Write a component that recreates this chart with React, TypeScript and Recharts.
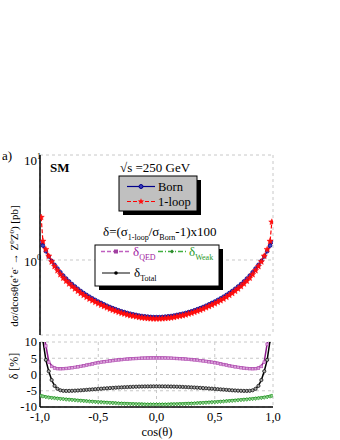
import React from 'react';
import { CartesianGrid, Line, LineChart, XAxis, YAxis } from 'recharts';

const FONT = '"Liberation Serif", "Times New Roman", serif';

const cosTheta = [
  -0.99, -0.975, -0.95, -0.925, -0.9, -0.875, -0.85, -0.825, -0.8, -0.775, -0.75, -0.725, -0.7, -0.675, -0.65,
  -0.625, -0.6, -0.575, -0.55, -0.525, -0.5, -0.475, -0.45, -0.425, -0.4, -0.375, -0.35, -0.325, -0.3, -0.275,
  -0.25, -0.225, -0.2, -0.175, -0.15, -0.125, -0.1, -0.075, -0.05, -0.025, 0, 0.025, 0.05, 0.075, 0.1, 0.125,
  0.15, 0.175, 0.2, 0.225, 0.25, 0.275, 0.3, 0.325, 0.35, 0.375, 0.4, 0.425, 0.45, 0.475, 0.5, 0.525, 0.55,
  0.575, 0.6, 0.625, 0.65, 0.675, 0.7, 0.725, 0.75, 0.775, 0.8, 0.825, 0.85, 0.875, 0.9, 0.925, 0.95, 0.975, 0.99,
];

// Born cross section [pb]
const bornXs = [
  1.48, 1.37, 1.21, 1.08, 0.98, 0.9, 0.83, 0.765, 0.71, 0.665, 0.625, 0.59, 0.56, 0.532, 0.507, 0.485, 0.465,
  0.447, 0.431, 0.416, 0.402, 0.39, 0.378, 0.367, 0.357, 0.348, 0.34, 0.332, 0.325, 0.319, 0.313, 0.308, 0.304,
  0.3, 0.296, 0.293, 0.291, 0.289, 0.287, 0.286, 0.286, 0.286, 0.287, 0.289, 0.291, 0.293, 0.296, 0.3, 0.304,
  0.308, 0.313, 0.319, 0.325, 0.332, 0.34, 0.348, 0.357, 0.367, 0.378, 0.39, 0.402, 0.416, 0.431, 0.447, 0.465,
  0.485, 0.507, 0.532, 0.56, 0.59, 0.625, 0.665, 0.71, 0.765, 0.83, 0.9, 0.98, 1.08, 1.21, 1.37, 1.48,
];

// 1-loop cross section [pb]
const oneLoopXs = [
  2.55, 1.51, 1.26, 1.09, 0.963, 0.869, 0.794, 0.728, 0.674, 0.631, 0.594, 0.56, 0.532, 0.506, 0.482, 0.462,
  0.443, 0.426, 0.411, 0.397, 0.384, 0.373, 0.362, 0.352, 0.342, 0.334, 0.326, 0.319, 0.312, 0.307, 0.301,
  0.296, 0.293, 0.289, 0.285, 0.282, 0.28, 0.278, 0.277, 0.276, 0.276, 0.276, 0.277, 0.278, 0.28, 0.282, 0.285,
  0.289, 0.293, 0.296, 0.301, 0.307, 0.312, 0.319, 0.326, 0.334, 0.342, 0.352, 0.362, 0.373, 0.384, 0.397,
  0.411, 0.426, 0.443, 0.462, 0.482, 0.506, 0.532, 0.56, 0.594, 0.631, 0.674, 0.728, 0.794, 0.869, 0.963, 1.09,
  1.26, 1.51, 2.3,
];

const deltaQED = [
  20, 13, 9, 4.0, 2.7, 2.2, 2.02, 1.98, 2.01, 2.08, 2.17, 2.29, 2.42, 2.56, 2.72, 2.9, 3.1, 3.28, 3.46, 3.66,
  3.83, 3.98, 4.12, 4.25, 4.38, 4.49, 4.6, 4.7, 4.8, 4.88, 4.96, 5.03, 5.09, 5.14, 5.18, 5.22, 5.25, 5.27, 5.29,
  5.3, 5.3, 5.3, 5.29, 5.27, 5.25, 5.22, 5.18, 5.14, 5.09, 5.03, 4.96, 4.88, 4.8, 4.7, 4.6, 4.49, 4.38, 4.25,
  4.12, 3.98, 3.83, 3.66, 3.46, 3.28, 3.1, 2.9, 2.72, 2.56, 2.42, 2.29, 2.17, 2.08, 2.01, 1.98, 2.02, 2.2, 2.7,
  4.0, 9.5, 14, 20,
];

const deltaWeak = [
  -6.35, -6.5, -6.7, -6.85, -6.97, -7.08, -7.18, -7.27, -7.36, -7.45, -7.53, -7.61, -7.69, -7.77, -7.85, -7.93,
  -8.0, -8.07, -8.14, -8.21, -8.27, -8.33, -8.39, -8.45, -8.51, -8.57, -8.62, -8.67, -8.72, -8.76, -8.8, -8.84,
  -8.87, -8.9, -8.93, -8.95, -8.97, -8.98, -8.99, -9.0, -9.0, -9.0, -8.99, -8.98, -8.97, -8.95, -8.93, -8.9,
  -8.87, -8.84, -8.8, -8.76, -8.72, -8.67, -8.62, -8.57, -8.51, -8.45, -8.39, -8.33, -8.27, -8.21, -8.14, -8.07,
  -8.0, -7.93, -7.85, -7.77, -7.69, -7.61, -7.53, -7.45, -7.36, -7.27, -7.18, -7.08, -6.97, -6.85, -6.7, -6.5,
  -6.35,
];

const deltaTotal = [
  69, 10.5, 4.5, 1.0, -1.7, -3.5, -4.4, -4.85, -5.02, -5.05, -5.04, -5.01, -4.97, -4.92, -4.86, -4.79, -4.72,
  -4.65, -4.58, -4.51, -4.44, -4.37, -4.3, -4.23, -4.17, -4.11, -4.05, -4.0, -3.95, -3.9, -3.86, -3.82, -3.78,
  -3.75, -3.72, -3.7, -3.68, -3.67, -3.66, -3.65, -3.65, -3.65, -3.66, -3.67, -3.68, -3.7, -3.72, -3.75, -3.78,
  -3.82, -3.86, -3.9, -3.95, -4.0, -4.05, -4.11, -4.17, -4.23, -4.3, -4.37, -4.44, -4.51, -4.58, -4.65, -4.72,
  -4.79, -4.86, -4.92, -4.97, -5.01, -5.04, -5.05, -5.02, -4.85, -4.4, -3.5, -1.7, 1.0, 4.5, 10.5, 55,
];

const xMajorTicks = [-1, -0.5, 0, 0.5, 1];
const xTickLabels = ['-1,0', '-0,5', '0,0', '0,5', '1,0'];
const xMinorTicks = Array.from({ length: 41 }, (_, i) => Math.round((-1 + i * 0.05) * 100) / 100);
const logMajorTicks = [1, 10];
const logMinorTicks = [0.2, 0.3, 0.4, 0.5, 0.6, 0.7, 0.8, 0.9, 2, 3, 4, 5, 6, 7, 8, 9];
const deltaMajorTicks = [-10, -5, 0, 5, 10];
const deltaMinorTicks = Array.from({ length: 21 }, (_, i) => -10 + i);

const data = cosTheta.map((c, i) => ({
  c,
  born: bornXs[i],
  loop: oneLoopXs[i],
  qed: deltaQED[i],
  weak: deltaWeak[i],
  total: deltaTotal[i],
}));

const frameLine = { stroke: '#000', strokeWidth: 1.5 };
const tickLn = { stroke: '#000', strokeWidth: 1 };

function starPath(cx: number, cy: number, r: number) {
  let d = '';
  for (let k = 0; k < 10; k++) {
    const rad = k % 2 === 0 ? r : r * 0.45;
    const a = -Math.PI / 2 + (k * Math.PI) / 5;
    d += (k === 0 ? 'M' : 'L') + (cx + rad * Math.cos(a)).toFixed(2) + ',' + (cy + rad * Math.sin(a)).toFixed(2);
  }
  return d + 'Z';
}

const StarDot = (p: any) => {
  if (p.cx == null || p.cy == null) return <g key={`s${p.index}`} />;
  return <path key={`s${p.index}`} d={starPath(p.cx, p.cy, 3.3)} fill="#ff1010" stroke="#ff0000" strokeWidth={0.4} />;
};
const SquareDot = (p: any) => {
  if (p.cx == null || p.cy == null) return <g key={`q${p.index}`} />;
  return <rect key={`q${p.index}`} x={p.cx - 1.3} y={p.cy - 0.6} width={2.6} height={2.6} fill="#dca6dc" stroke="#b455b4" strokeWidth={0.7} />;
};
const DiamondDot = (p: any) => {
  if (p.cx == null || p.cy == null) return <g key={`d${p.index}`} />;
  const { cx, cy } = p;
  return <path key={`d${p.index}`} d={`M${cx},${cy - 1.2}L${cx + 1.7},${cy + 0.7}L${cx},${cy + 2.6}L${cx - 1.7},${cy + 0.7}Z`} fill="#8fd08f" stroke="#2c9c2c" strokeWidth={0.7} />;
};

function LogTick(props: any) {
  const { x, y, payload } = props;
  const exp = Math.round(Math.log10(payload.value));
  const dy = payload.value === 10 ? 10 : 6;
  return (
    <text x={x + 1} y={y + dy} textAnchor="end" fontFamily={FONT} fontSize={13} fill="#000">
      10<tspan dy={-6} fontSize={8}>{exp}</tspan>
    </text>
  );
}

// inward major/minor ticks + box frame on all four sides
function frameAxes(yDomain: number[], yScale: any, yMajor: number[], yMinor: number[]) {
  const xCommon = { type: 'number' as const, domain: [-1, 1], allowDataOverflow: true, interval: 0 as const, mirror: true, height: 0, tick: false, stroke: '#000', tickLine: tickLn };
  const yCommon = { type: 'number' as const, scale: yScale, domain: yDomain, allowDataOverflow: true, interval: 0 as const, mirror: true, width: 0, tick: false, stroke: '#000', tickLine: tickLn };
  return [
    <XAxis key="xb1" xAxisId="xb1" orientation="bottom" ticks={xMajorTicks} tickSize={5} axisLine={false} {...xCommon} />,
    <XAxis key="xb2" xAxisId="xb2" orientation="bottom" ticks={xMinorTicks} tickSize={3} axisLine={false} {...xCommon} />,
    <XAxis key="xt1" xAxisId="xt1" orientation="top" ticks={xMajorTicks} tickSize={5} axisLine={frameLine} {...xCommon} />,
    <XAxis key="xt2" xAxisId="xt2" orientation="top" ticks={xMinorTicks} tickSize={3} axisLine={false} {...xCommon} />,
    <YAxis key="yl1" yAxisId="yl1" orientation="left" ticks={yMajor} tickSize={5} axisLine={false} {...yCommon} />,
    <YAxis key="yl2" yAxisId="yl2" orientation="left" ticks={yMinor} tickSize={3} axisLine={false} {...yCommon} />,
    <YAxis key="yr1" yAxisId="yr1" orientation="right" ticks={yMajor} tickSize={5} axisLine={frameLine} {...yCommon} />,
    <YAxis key="yr2" yAxisId="yr2" orientation="right" ticks={yMinor} tickSize={3} axisLine={false} {...yCommon} />,
  ];
}

function Overlay() {
  return (
    <svg width={340} height={440} fontFamily={FONT} style={{ position: 'absolute', left: 0, top: 0, pointerEvents: 'none' }}>
      <text x={2} y={160} fontSize={13}>a)</text>
      <text x={50} y={172} fontSize={13} fontWeight="bold">SM</text>
      <text x={120} y={172} fontSize={13}>√s =250 GeV</text>

      <rect x={123} y={180} width={78} height={35} fill="#000" />
      <rect x={119} y={176} width={78} height={35} fill="#c0c0c0" stroke="#000" strokeWidth={1} />
      <line x1={127} x2={155} y1={186.5} y2={186.5} stroke="#00008b" strokeWidth={1.2} />
      <circle cx={141} cy={186.5} r={2} fill="#3a3ab8" stroke="#00008b" />
      <text x={158} y={191} fontSize={12.5}>Born</text>
      <line x1={127} x2={155} y1={201.5} y2={201.5} stroke="#ff0000" strokeWidth={1.2} strokeDasharray="4 2" />
      <path d={starPath(141, 201.5, 3.3)} fill="#ff1010" />
      <text x={158} y={205.5} fontSize={12.5}>1-loop</text>

      <text x={103} y={236} fontSize={13}>
        δ=(σ<tspan fontSize={8} dy={4}>1-loop</tspan>
        <tspan dy={-4}>/σ</tspan>
        <tspan fontSize={8} dy={4}>Born</tspan>
        <tspan dy={-4}>-1)x100</tspan>
      </text>

      <rect x={99} y={249} width={124} height={41} fill="#000" />
      <rect x={95} y={245} width={124} height={41} fill="#fff" stroke="#000" strokeWidth={1} />
      <line x1={101} x2={131} y1={251.5} y2={251.5} stroke="#c060c0" strokeWidth={1.3} strokeDasharray="4 2" />
      <rect x={114.5} y={250} width={3} height={3} fill="#a040a0" stroke="#a040a0" />
      <text x={133} y={256} fontSize={13} fill="#a020a0">
        δ<tspan fontSize={8} dy={4}>QED</tspan>
      </text>
      <line x1={158} x2={187} y1={251.5} y2={251.5} stroke="#40b040" strokeWidth={1.3} strokeDasharray="5 2 1 2" />
      <path d="M172,249.5L174,251.5L172,253.5L170,251.5Z" fill="#2a8a2a" />
      <text x={189} y={256} fontSize={13} fill="#2a9a2a">
        δ<tspan fontSize={8} dy={4}>Weak</tspan>
      </text>
      <line x1={102} x2={130} y1={273} y2={273} stroke="#404040" strokeWidth={1.3} />
      <circle cx={116} cy={273} r={1.8} fill="#000" />
      <text x={134} y={277} fontSize={13}>
        δ<tspan fontSize={8} dy={4}>Total</tspan>
      </text>

      <text transform="translate(17.5,266) rotate(-90)" textAnchor="middle" fontSize={11}>
        dσ/dcosθ(e<tspan fontSize={7} dy={-4}>+</tspan>
        <tspan dy={4}>e</tspan>
        <tspan fontSize={7} dy={-4}>-</tspan>
        <tspan dy={4}> → Z</tspan>
        <tspan fontSize={7} dy={-4}>0</tspan>
        <tspan dy={4}>Z</tspan>
        <tspan fontSize={7} dy={-4}>0</tspan>
        <tspan dy={4}>) [pb]</tspan>
      </text>
      <text transform="translate(17.5,366) rotate(-90)" textAnchor="middle" fontSize={12}>δ [%]</text>
      <text x={157} y={436} textAnchor="middle" fontSize={12.5}>cos(θ)</text>
    </svg>
  );
}

export default function App() {
  return (
    <div style={{ position: 'absolute', left: 0, top: 0, width: 340, height: 440, background: '#fff' }}>
      <div style={{ position: 'absolute', left: 0, top: 0 }}>
        <LineChart width={340} height={345} data={data} margin={{ top: 155, right: 67, bottom: 10, left: 0 }}>
          <CartesianGrid xAxisId="x" yAxisId="y" stroke="#c8c8c8" strokeDasharray="3 3" />
          <XAxis xAxisId="x" dataKey="c" type="number" domain={[-1, 1]} allowDataOverflow ticks={xMajorTicks} interval={0}
            orientation="bottom" mirror height={0} tick={false} tickSize={5} stroke="#000" tickLine={tickLn} axisLine={frameLine} />
          <YAxis yAxisId="y" type="number" scale="log" domain={[0.193, 10]} allowDataOverflow ticks={logMajorTicks} interval={0}
            width={40} tickLine={false} tickSize={0} tickMargin={0} stroke="#000" axisLine={frameLine} tick={<LogTick />} />
          {frameAxes([0.193, 10], 'log', logMajorTicks, logMinorTicks)}
          <Line xAxisId="x" yAxisId="y" dataKey="born" stroke="#00008b" strokeWidth={1.2} isAnimationActive={false}
            dot={{ r: 1.8, fill: '#4a4ac0', stroke: '#00008b', strokeWidth: 0.8 }} />
          <Line xAxisId="x" yAxisId="y" dataKey="loop" stroke="#ff0000" strokeWidth={1.2} strokeDasharray="4 2"
            isAnimationActive={false} dot={StarDot} />
        </LineChart>
      </div>
      <div style={{ position: 'absolute', left: 0, top: 335 }}>
        <LineChart width={340} height={105} data={data} margin={{ top: 7, right: 67, bottom: 0, left: 0 }}>
          <CartesianGrid xAxisId="x" yAxisId="y" stroke="#c8c8c8" strokeDasharray="3 3" />
          <XAxis xAxisId="x" dataKey="c" type="number" domain={[-1, 1]} allowDataOverflow ticks={xMajorTicks} interval={0}
            orientation="bottom" height={33} tickLine={false} tickSize={0} tickMargin={5} stroke="#000" axisLine={frameLine}
            tick={{ fontSize: 12.5, fill: '#000', fontFamily: FONT }}
            tickFormatter={(v: number) => xTickLabels[xMajorTicks.indexOf(v)]} />
          <YAxis yAxisId="y" type="number" domain={[-10, 10]} allowDataOverflow ticks={deltaMajorTicks} interval={0}
            width={40} tickLine={false} tickSize={0} tickMargin={3} stroke="#000" axisLine={frameLine}
            tick={{ fontSize: 12.5, fill: '#000', fontFamily: FONT }} />
          {frameAxes([-10, 10], 'auto', deltaMajorTicks, deltaMinorTicks)}
          <Line xAxisId="x" yAxisId="y" dataKey="weak" stroke="#008000" strokeWidth={1.5} isAnimationActive={false} dot={DiamondDot} />
          <Line xAxisId="x" yAxisId="y" dataKey="qed" stroke="#8b1a8b" strokeWidth={1.5} isAnimationActive={false} dot={SquareDot} />
          <Line xAxisId="x" yAxisId="y" dataKey="total" stroke="#000" strokeWidth={1.5} isAnimationActive={false}
            dot={{ r: 1.6, fill: '#aaa', stroke: '#111', strokeWidth: 0.8 }} />
        </LineChart>
      </div>
      <Overlay />
    </div>
  );
}
